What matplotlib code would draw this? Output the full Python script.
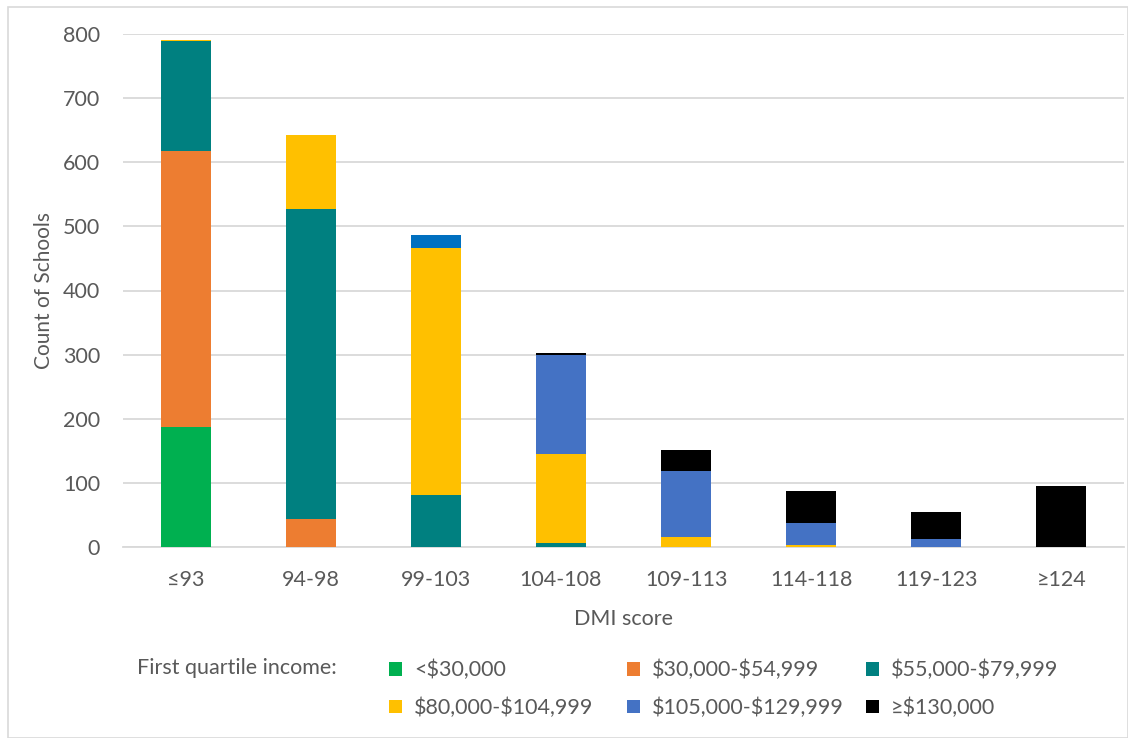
import matplotlib
matplotlib.use("Agg")
import matplotlib.pyplot as plt
from matplotlib.patches import Rectangle
import numpy as np

plt.rcParams['font.family'] = ['Lato', 'DejaVu Sans']
plt.rcParams['text.parse_math'] = False

categories = ["≤93", "94-98", "99-103", "104-108", "109-113", "114-118", "119-123", "≥124"]
series_names = ["<$30,000", "$30,000-$54,999", "$55,000-$79,999",
                "$80,000-$104,999", "$105,000-$129,999", "≥$130,000"]
v_lt30 = [187, 0, 0, 0, 0, 0, 0, 0]
v_30_55 = [431, 43, 0, 0, 0, 0, 0, 0]
v_55_80 = [171, 484, 81, 7, 0, 0, 0, 0]
v_80_105 = [2, 115, 385, 138, 15, 3, 0, 0]
v_105_130 = [0, 0, 20, 154, 104, 35, 12, 0]
v_ge130 = [0, 0, 0, 3, 33, 49, 42, 95]
y_ticks = [0, 100, 200, 300, 400, 500, 600, 700, 800]

series = [v_lt30, v_30_55, v_55_80, v_80_105, v_105_130, v_ge130]
colors = ["#00B050", "#ED7D31", "#008080", "#FFC000", "#4472C4", "#000000"]
text_color = "#595959"
grid_color = "#D9D9D9"
fs = 15.5

W, H = 1128, 738
fig = plt.figure(figsize=(W / 100, H / 100), dpi=100)
fig.patches.append(Rectangle((8 / W, 0), 1 - 8 / W, 1 - 7 / H, transform=fig.transFigure,
                             fill=False, edgecolor="#D9D9D9", linewidth=1.2))
ax = fig.add_axes([123 / W, (H - 547) / H, 1001 / W, 513 / H])

x = np.arange(len(categories))
bottom = np.zeros(len(categories))
handles = []
for i, (vals, col) in enumerate(zip(series, colors)):
    if i == 4:
        cols = [col] * len(categories)
        cols[2] = "#0070C0"
    else:
        cols = col
    b = ax.bar(x, vals, width=0.4, bottom=bottom, color=cols, label=series_names[i],
               zorder=3, linewidth=0)
    handles.append(b)
    bottom += np.array(vals)

ax.set_xlim(-0.5, len(categories) - 0.5)
ax.set_ylim(0, 800)
ax.set_yticks(y_ticks)
ax.set_xticks(x)
ax.set_xticklabels(categories)
ax.yaxis.grid(True, color=grid_color, linewidth=1.3, zorder=0)
ax.set_axisbelow(True)
for s in ["left", "right", "top"]:
    ax.spines[s].set_visible(False)
ax.spines["bottom"].set_color(grid_color)
ax.spines["bottom"].set_linewidth(1.3)
ax.tick_params(axis="both", length=0, colors=text_color, labelsize=fs)
ax.tick_params(axis="y", pad=16.5)
ax.tick_params(axis="x", pad=16.5)
ax.set_xlabel("DMI score", fontsize=15.5, color=text_color, labelpad=14)
ax.set_ylabel("Count of Schools", fontsize=15, color=text_color, labelpad=6.5)

fig.text(137 / W, 1 - 668 / H, "First quartile income:", fontsize=fs, color=text_color,
         ha="left", va="center")

col_x = [389, 627, 866]
for c in range(3):
    hs = [handles[c], handles[c + 3]]
    ls = [series_names[c], series_names[c + 3]]
    leg = fig.legend(hs, ls, loc="upper left", bbox_to_anchor=(col_x[c] / W, 1 - 660 / H),
                     frameon=False, fontsize=fs, handlelength=0.6, handleheight=0.6,
                     handletextpad=0.55, labelspacing=0.8, borderpad=0, borderaxespad=0)
    for t in leg.get_texts():
        t.set_color(text_color)

fig.savefig("out.png", dpi=100)
